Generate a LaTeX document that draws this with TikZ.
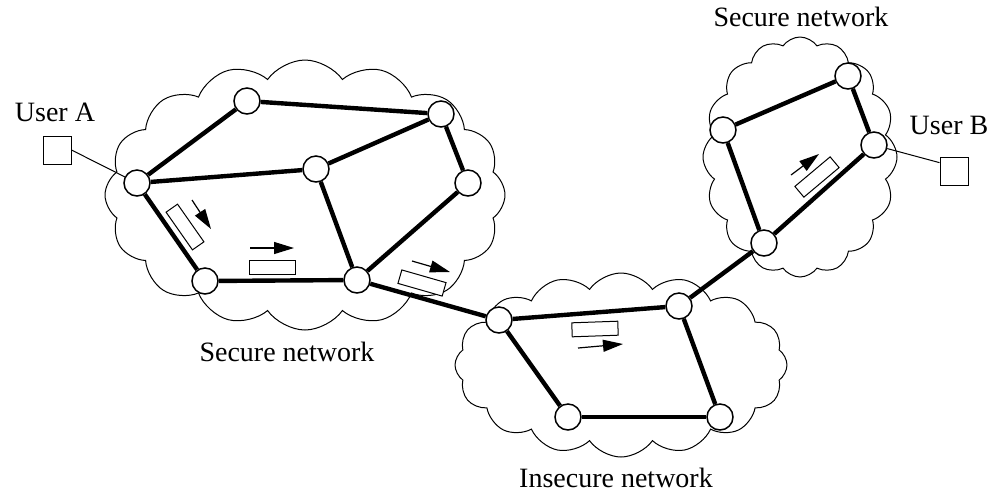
\documentclass[tikz,border=0pt]{standalone}
\usepackage{fontspec}
\setmainfont{Liberation Serif}
\usetikzlibrary{shapes.symbols,arrows.meta}
\begin{document}
\begin{tikzpicture}[x=0.5pt,y=-0.5pt,
  router/.style={circle,draw,line width=0.75pt,fill=white,minimum size=13pt,inner sep=0pt},
  link/.style={line width=2.2pt},
  access/.style={line width=0.5pt},
  netcloud/.style={cloud,draw,line width=0.5pt,cloud puffs=16,cloud puff arc=110,cloud ignores aspect,inner sep=0pt},
  packet/.style={draw,fill=white,line width=0.5pt,minimum width=23pt,minimum height=7pt,inner sep=0pt},
  flow/.style={line width=0.6pt,-{Triangle[length=10pt,width=6pt]}},
  terminal/.style={draw,line width=0.5pt,minimum size=14pt,inner sep=0pt},
  lbl/.style={font=\fontsize{14}{16}\selectfont,inner sep=0pt}
]
\useasboundingbox (0,0) rectangle (992,495);

% network clouds
\node[netcloud,minimum width=200pt,minimum height=135pt] (cloudA) at (305,195) {};
\node[netcloud,minimum width=166pt,minimum height=92pt] (cloudI) at (621,365) {};
\node[netcloud,minimum width=97pt,minimum height=120pt] (cloudB) at (800,157) {};

% routers of the left secure network
\node[router] (n1) at (137,183) {};
\node[router] (n2) at (247,101) {};
\node[router] (n3) at (441,114) {};
\node[router] (n4) at (316,169) {};
\node[router] (n5) at (468,183) {};
\node[router] (n6) at (205,281) {};
\node[router] (n7) at (357,280) {};

% routers of the insecure network
\node[router] (m1) at (499,320) {};
\node[router] (m2) at (679,306) {};
\node[router] (m3) at (568,417) {};
\node[router] (m4) at (720,417) {};

% routers of the right secure network
\node[router] (r1) at (848,76) {};
\node[router] (r2) at (723,130) {};
\node[router] (r3) at (874,145) {};
\node[router] (r4) at (764,243) {};

% links
\draw[link] (n1) -- (n2);
\draw[link] (n2) -- (n3);
\draw[link] (n1) -- (n4);
\draw[link] (n4) -- (n3);
\draw[link] (n3) -- (n5);
\draw[link] (n5) -- (n7);
\draw[link] (n4) -- (n7);
\draw[link] (n1) -- (n6);
\draw[link] (n6) -- (n7);
\draw[link] (n7) -- (m1);
\draw[link] (m1) -- (m2);
\draw[link] (m1) -- (m3);
\draw[link] (m3) -- (m4);
\draw[link] (m2) -- (m4);
\draw[link] (m2) -- (r4);
\draw[link] (r2) -- (r1);
\draw[link] (r1) -- (r3);
\draw[link] (r2) -- (r4);
\draw[link] (r4) -- (r3);

% users
\node[terminal] (ua) at (57,150) {};
\node[terminal] (ub) at (954,171) {};
\node[lbl] (uaLabel) at (55,112) {User A};
\node[lbl] (ubLabel) at (949,125) {User B};
\draw[access] (ua.east) -- (n1);
\draw[access] (ub.150) -- (r3);

% packets in transit
\node[packet,rotate=-55] (p1) at (185,227) {};
\node[packet] (p2) at (272,267) {};
\node[packet,rotate=-16] (p3) at (422,283) {};
\node[packet,rotate=2] (p4) at (595,329) {};
\node[packet,rotate=40] (p5) at (817,177) {};

\coordinate (a1s) at (192,200); \coordinate (a1e) at (211,229);
\coordinate (a2s) at (250,248); \coordinate (a2e) at (294,248);
\coordinate (a3s) at (412,261); \coordinate (a3e) at (450,272);
\coordinate (a4s) at (578,348); \coordinate (a4e) at (623,344);
\coordinate (a5s) at (791,175); \coordinate (a5e) at (819,154);
\draw[flow] (a1s) -- (a1e);
\draw[flow] (a2s) -- (a2e);
\draw[flow] (a3s) -- (a3e);
\draw[flow] (a4s) -- (a4e);
\draw[flow] (a5s) -- (a5e);

% network names
\node[lbl] (nameA) at (287,352) {Secure network};
\node[lbl] (nameB) at (801,17) {Secure network};
\node[lbl] (nameI) at (616,478) {Insecure network};
\end{tikzpicture}
\end{document}
